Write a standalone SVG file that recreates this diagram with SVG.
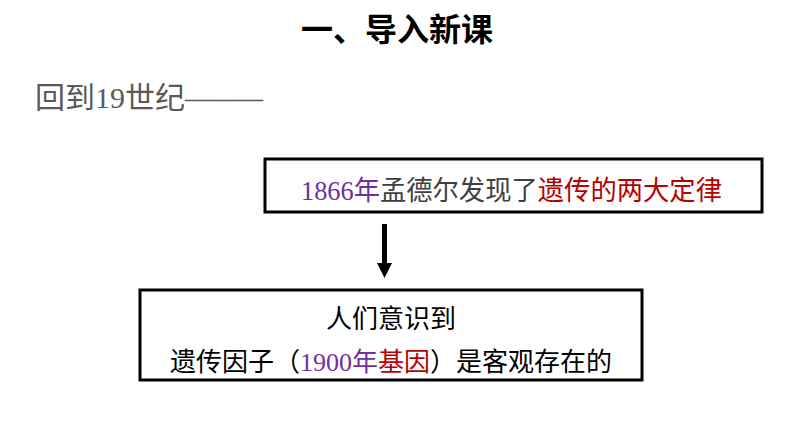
<svg xmlns="http://www.w3.org/2000/svg" width="794" height="447" viewBox="0 0 794 447">
<style>
.t{font-family:"Liberation Serif","Noto Sans CJK SC",serif}
.box{fill:#fff;stroke:#000;stroke-width:3}
.pu{fill:#7030A0}
.rd{fill:#B80000}
.gy{fill:#404040}
</style>
<rect width="794" height="447" fill="#fff"/>
<text class="t" x="397" y="41" font-size="32" font-weight="bold" text-anchor="middle" fill="#000">一、导入新课</text>
<text class="t" x="35" y="108" font-size="30" fill="#595959">回到19世纪<tspan textLength="78" lengthAdjust="spacingAndGlyphs">——</tspan></text>
<g id="node1">
<rect class="box" x="265" y="159" width="497" height="53"/>
<text class="t" x="301" y="200" font-size="27" textLength="421" lengthAdjust="spacingAndGlyphs"><tspan class="pu">1866年</tspan><tspan class="gy">孟德尔发现了</tspan><tspan class="rd">遗传的两大定律</tspan></text>
</g>
<g id="connectors">
<line x1="384.5" y1="224" x2="384.5" y2="264" stroke="#000" stroke-width="5"/>
<polygon points="377,263 392,263 384.5,278" fill="#000"/>
</g>
<g id="node2">
<rect class="box" x="140" y="290" width="502" height="90"/>
<text class="t" x="391" y="328" font-size="26" text-anchor="middle" fill="#000">人们意识到</text>
<text class="t" x="391" y="371" font-size="26" text-anchor="middle" fill="#000">遗传因子（<tspan class="pu">1900年</tspan><tspan class="rd">基因</tspan>）是客观存在的</text>
</g>
</svg>
